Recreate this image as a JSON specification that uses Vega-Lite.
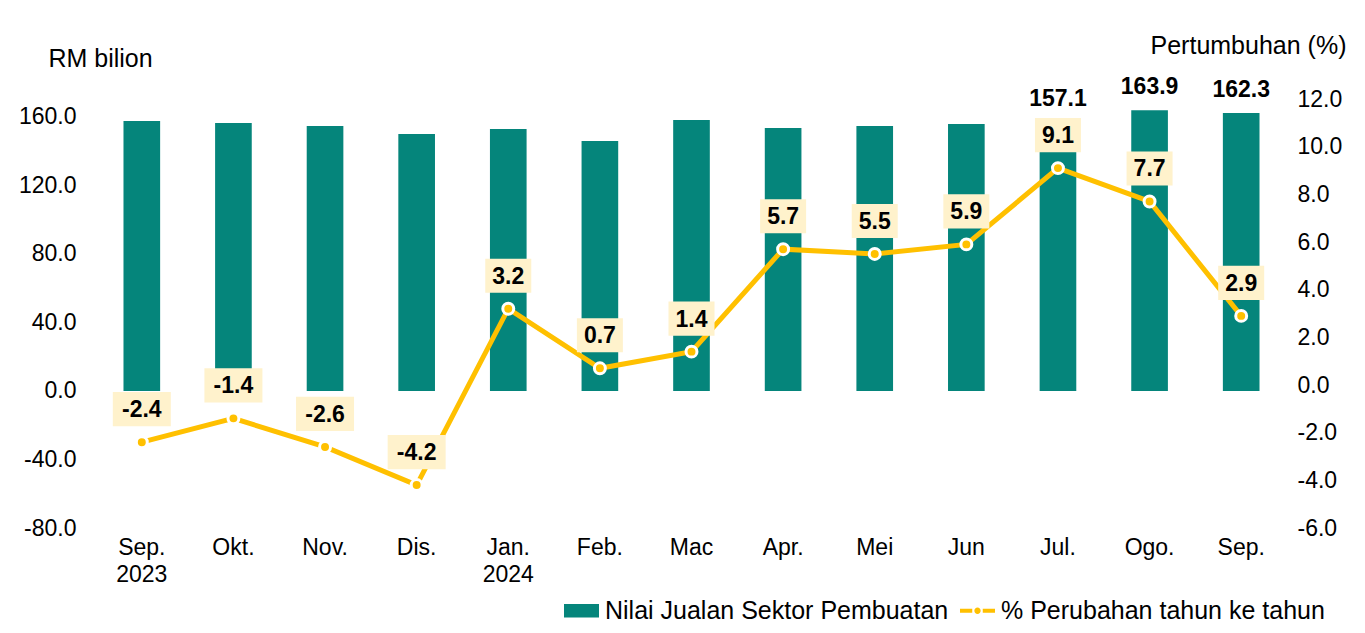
{
  "$schema": "https://vega.github.io/schema/vega-lite/v6.json",
  "width": 1191,
  "height": 429,
  "autosize": {"type": "none"},
  "padding": {"left": 96, "top": 99, "right": 78, "bottom": 105},
  "background": "white",
  "data": {
    "values": [
      {"m": "Sep.|2023", "sales": 157.7, "pct": -2.4},
      {"m": "Okt.", "sales": 156.5, "pct": -1.4},
      {"m": "Nov.", "sales": 154.7, "pct": -2.6},
      {"m": "Dis.", "sales": 150.1, "pct": -4.2},
      {"m": "Jan.|2024", "sales": 153.0, "pct": 3.2},
      {"m": "Feb.", "sales": 146.0, "pct": 0.7},
      {"m": "Mac", "sales": 158.2, "pct": 1.4},
      {"m": "Apr.", "sales": 153.6, "pct": 5.7},
      {"m": "Mei", "sales": 154.7, "pct": 5.5},
      {"m": "Jun", "sales": 155.9, "pct": 5.9},
      {"m": "Jul.", "sales": 157.1, "pct": 9.1},
      {"m": "Ogo.", "sales": 163.9, "pct": 7.7},
      {"m": "Sep.", "sales": 162.3, "pct": 2.9}
    ]
  },
  "encoding": {
    "x": {
      "field": "m",
      "type": "nominal",
      "sort": null,
      "scale": {"paddingInner": 0.6, "paddingOuter": 0.3},
      "axis": {
        "title": null,
        "labelAngle": 0,
        "domain": false,
        "ticks": false,
        "labelPadding": 8,
        "labelFontSize": 23,
        "labelLineHeight": 27,
        "labelColor": "#000000",
        "labelExpr": "split(datum.value, '|')"
      }
    }
  },
  "layer": [
    {
      "layer": [
        {
          "mark": {"type": "rule", "color": "#9a9a9a", "strokeWidth": 2},
          "encoding": {"y": {"datum": 0, "type": "quantitative"}}
        },
        {
          "mark": {"type": "bar"},
          "encoding": {
            "y": {
              "field": "sales",
              "type": "quantitative",
              "scale": {"domain": [-80, 170.5], "nice": false, "zero": false},
              "axis": {
                "values": [-80, -40, 0, 40, 80, 120, 160],
                "format": ".1f",
                "grid": false,
                "domain": false,
                "ticks": false,
                "labelPadding": 20,
                "labelFontSize": 23,
                "labelColor": "#000000",
                "title": "RM bilion",
                "titleAngle": 0,
                "titleAlign": "center",
                "titleBaseline": "middle",
                "titleX": 4,
                "titleY": -41,
                "titleFontSize": 25,
                "titleFontWeight": "normal",
                "titleColor": "#000000"
              }
            },
            "color": {
              "datum": "Nilai Jualan Sektor Pembuatan",
              "type": "nominal",
              "scale": {
                "domain": ["Nilai Jualan Sektor Pembuatan", "% Perubahan tahun ke tahun"],
                "range": ["#05857B", "#FFC000"]
              },
              "legend": {
                "title": null,
                "orient": "none",
                "direction": "horizontal",
                "legendX": 467,
                "legendY": 493,
                "labelFontSize": 25,
                "labelColor": "#000000",
                "labelLimit": 500,
                "symbolSize": 1225,
                "symbolOffset": 0,
                "labelOffset": 5,
                "columnPadding": 10,
                "encode": {
                  "symbols": {
                    "update": {
                      "shape": {"signal": "datum.value == 'Nilai Jualan Sektor Pembuatan' ? 'M-1,-0.38H1V0.38H-1Z' : 'M-1,-0.11H-0.3V0.11H-1Z M0.3,-0.11H1V0.11H0.3Z M0.18,0A0.18,0.18 0 1,1 -0.18,0A0.18,0.18 0 1,1 0.18,0Z'"},
                      "fill": {"signal": "datum.value == 'Nilai Jualan Sektor Pembuatan' ? '#05857B' : '#FFC000'"},
                      "stroke": {"value": null},
                      "opacity": {"value": 1}
                    }
                  }
                }
              }
            }
          }
        },
        {
          "transform": [{"filter": "indexof(['Jul.', 'Ogo.', 'Sep.'], datum.m) >= 0"}],
          "mark": {"type": "text", "fontSize": 23, "fontWeight": "bold", "baseline": "bottom", "dy": -11, "color": "#000000"},
          "encoding": {
            "y": {"field": "sales", "type": "quantitative"},
            "text": {"field": "sales", "type": "quantitative", "format": ".1f"}
          }
        }
      ]
    },
    {
      "layer": [
        {
          "mark": {"type": "line", "color": "#FFC000", "strokeWidth": 5},
          "encoding": {
            "y": {
              "field": "pct",
              "type": "quantitative",
              "scale": {"domain": [-6, 12], "nice": false, "zero": false},
              "axis": {
                "orient": "right",
                "values": [-6, -4, -2, 0, 2, 4, 6, 8, 10, 12],
                "format": ".1f",
                "grid": false,
                "domain": false,
                "ticks": false,
                "labelPadding": 10,
                "labelFontSize": 23,
                "labelColor": "#000000",
                "title": "Pertumbuhan (%)",
                "titleAngle": 0,
                "titleAlign": "center",
                "titleBaseline": "middle",
                "titleX": -39,
                "titleY": -54,
                "titleFontSize": 25,
                "titleFontWeight": "normal",
                "titleColor": "#000000"
              }
            }
          }
        },
        {
          "mark": {"type": "point", "filled": true, "fill": "#FFC000", "stroke": "#ffffff", "strokeWidth": 3, "size": 120, "opacity": 1},
          "encoding": {"y": {"field": "pct", "type": "quantitative"}}
        },
        {
          "transform": [{"filter": "datum.pct < 0"}],
          "mark": {"type": "point", "shape": "M-1,-0.59H1V0.59H-1Z", "filled": true, "fill": "#FFF2CC", "strokeWidth": 0, "size": 3364, "yOffset": -33, "opacity": 1},
          "encoding": {"y": {"field": "pct", "type": "quantitative"}}
        },
        {
          "transform": [{"filter": "datum.pct >= 0"}],
          "mark": {"type": "point", "shape": "M-1,-0.74H1V0.74H-1Z", "filled": true, "fill": "#FFF2CC", "strokeWidth": 0, "size": 2116, "yOffset": -33, "opacity": 1},
          "encoding": {"y": {"field": "pct", "type": "quantitative"}}
        },
        {
          "mark": {"type": "text", "fontSize": 23, "fontWeight": "bold", "baseline": "middle", "yOffset": -32, "color": "#000000"},
          "encoding": {
            "y": {"field": "pct", "type": "quantitative"},
            "text": {"field": "pct", "type": "quantitative", "format": ".1f"}
          }
        }
      ]
    }
  ],
  "resolve": {"scale": {"y": "independent"}},
  "config": {
    "font": "Liberation Sans",
    "view": {"stroke": null},
    "locale": {
      "number": {"decimal": ".", "thousands": ",", "grouping": [3], "currency": ["", ""], "minus": "-"}
    }
  }
}
